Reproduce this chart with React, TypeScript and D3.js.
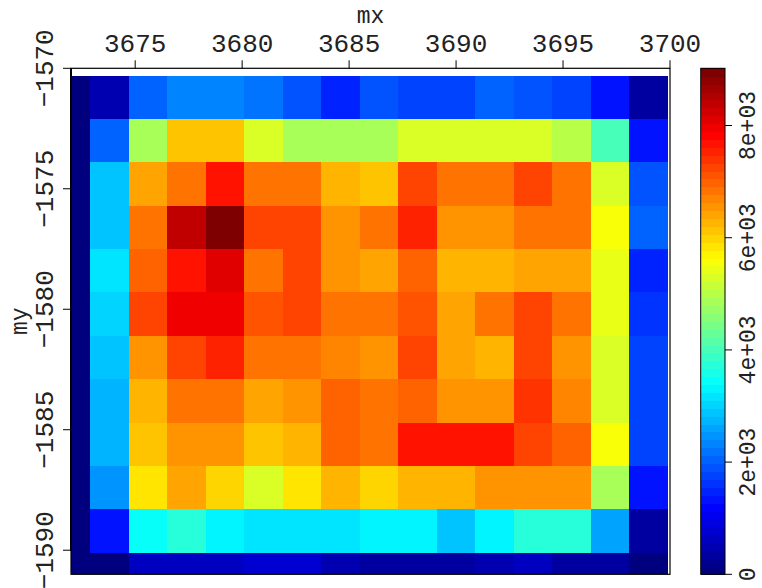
import React from "react";
import * as d3 from "d3";

const xCenters = [3672, 3673.8, 3675.6, 3677.4, 3679.2, 3681, 3682.8, 3684.6, 3686.4, 3688.2, 3690, 3691.8, 3693.6, 3695.4, 3697.2, 3699];
const yCenters = [-1571.2, -1573.0, -1574.8, -1576.6, -1578.4, -1580.2, -1582.0, -1583.8, -1585.6, -1587.4, -1589.2, -1591.0];
const cellSize = 1.8;

const row0 = [40, 500, 1975, 2255, 2365, 2190, 1835, 1550, 1835, 1765, 1765, 1975, 1835, 1695, 1270, 285];
const row1 = [30, 2030, 4800, 6200, 6200, 5290, 4800, 4800, 4800, 5290, 5250, 5290, 5290, 4935, 3950, 1270];
const row2 = [30, 2820, 6405, 6900, 7745, 6830, 6900, 6330, 6200, 7250, 6765, 6765, 7250, 6830, 5250, 1905];
const row3 = [30, 2895, 6900, 8450, 9020, 7325, 7325, 6620, 6830, 7540, 6620, 6620, 6900, 6830, 5500, 1975];
const row4 = [30, 3110, 6970, 7745, 8170, 6765, 7190, 6550, 6405, 7045, 6265, 6265, 6475, 6405, 5430, 1550];
const row5 = [30, 3040, 7190, 8025, 7893, 7115, 7250, 6765, 6765, 7115, 6475, 6765, 7190, 6765, 5430, 1625];
const row6 = [30, 2820, 6550, 7190, 7470, 6900, 6900, 6690, 6620, 7190, 6475, 6330, 7190, 6550, 5290, 1695];
const row7 = [30, 2750, 6265, 6830, 6830, 6475, 6550, 6970, 6765, 6970, 6620, 6620, 7400, 6690, 5290, 1695];
const row8 = [30, 2750, 6125, 6620, 6620, 6125, 6330, 7045, 6900, 7675, 7675, 7675, 7325, 7045, 5500, 1695];
const row9 = [30, 2470, 5840, 6475, 6055, 5290, 5840, 6330, 6055, 6265, 6265, 6550, 6550, 6550, 4800, 1270];
const row10 = [20, 1340, 3383, 3805, 3320, 3110, 3175, 3110, 3320, 3250, 2900, 3250, 3805, 3665, 2545, 285];
const row11 = [0, 120, 570, 570, 640, 710, 710, 430, 360, 360, 285, 430, 640, 360, 285, 60];
const zRows = [row0, row1, row2, row3, row4, row5, row6, row7, row8, row9, row10, row11];

const xTicks = [3675, 3680, 3685, 3690, 3695, 3700];
const yTicks = [-1570, -1575, -1580, -1585, -1590];
const cbTicks = [0, 2000, 4000, 6000, 8000];
const cbLabels = ["0", "2e+03", "4e+03", "6e+03", "8e+03"];

const W = 762, H = 588;
const P = { left: 71, right: 670, top: 68.3, bottom: 574.3 };
const CB = { left: 700.7, right: 725, top: 68.3, bottom: 574.3 };
const FONT = "'Liberation Mono', monospace";
const NLEVEL = 64;
const TXT = "#222";

export default function App() {
  const x = d3.scaleLinear().domain([3672, 3700]).range([P.left, P.right]);
  const y = d3.scaleLinear().domain([-1591, -1570]).range([P.bottom, P.top]);
  const all = zRows.flat();
  const zmin = d3.min(all) as number;
  const zmax = d3.max(all) as number;
  const jet = d3
    .scaleLinear<string>()
    .domain([0, 0.125, 0.375, 0.625, 0.875, 1])
    .range(["#00007F", "#0000FF", "#00FFFF", "#FFFF00", "#FF0000", "#7F0000"])
    .interpolate(d3.interpolateRgb);
  const palette = d3.range(NLEVEL).map((i) => jet(i / (NLEVEL - 1)));
  const colorOf = (v: number) => {
    let idx = Math.floor(((v - zmin) / (zmax - zmin)) * NLEVEL);
    if (idx >= NLEVEL) idx = NLEVEL - 1;
    if (idx < 0) idx = 0;
    return palette[idx];
  };
  const cb = d3.scaleLinear().domain([zmin, zmax]).range([CB.bottom, CB.top]);
  const binEdges = d3.range(NLEVEL + 1).map((i) => zmin + ((zmax - zmin) * i) / NLEVEL);

  const cells: React.ReactNode[] = [];
  zRows.forEach((row, ri) => {
    row.forEach((v, ci) => {
      const x0 = x(xCenters[ci] - cellSize / 2);
      const x1 = x(xCenters[ci] + cellSize / 2);
      const y0 = y(yCenters[ri] + cellSize / 2);
      const y1 = y(yCenters[ri] - cellSize / 2);
      cells.push(
        <rect key={`${ri}-${ci}`} x={x0} y={y0} width={x1 - x0 + 0.4} height={y1 - y0 + 0.4} fill={colorOf(v)} shapeRendering="crispEdges" />
      );
    });
  });

  return (
    <svg width={W} height={H} style={{ position: "fixed", left: 0, top: 0, background: "#fff" }} fontFamily={FONT}>
      <defs>
        <clipPath id="plotclip">
          <rect x={P.left} y={P.top} width={P.right - P.left} height={P.bottom - P.top} />
        </clipPath>
      </defs>
      <rect x={0} y={0} width={W} height={H} fill="#fff" />
      <g clipPath="url(#plotclip)">{cells}</g>
      <rect x={P.left} y={P.top} width={P.right - P.left} height={P.bottom - P.top} fill="none" stroke="#000" strokeWidth={1.2} />
      <line x1={P.left} x2={P.left} y1={y(-1570)} y2={y(-1590)} stroke="#000" strokeWidth={2} />
      {xTicks.map((t) => (
        <g key={t}>
          <line x1={x(t)} x2={x(t)} y1={P.top} y2={P.top - 8} stroke="#000" strokeWidth={1} />
          <text x={x(t)} y={52} textAnchor="middle" fontSize={26} fill={TXT}>
            {t}
          </text>
        </g>
      ))}
      <text x={(P.left + P.right) / 2} y={23} textAnchor="middle" fontSize={23} fill={TXT}>
        mx
      </text>
      {yTicks.map((t) => (
        <g key={t}>
          <line x1={P.left} x2={P.left - 8} y1={y(t)} y2={y(t)} stroke="#000" strokeWidth={1} />
          <text transform={`translate(53,${y(t)}) rotate(-90)`} textAnchor="middle" fontSize={26} fill={TXT}>
            {"\u2212" + Math.abs(t)}
          </text>
        </g>
      ))}
      <text transform={`translate(27,${(P.top + P.bottom) / 2}) rotate(-90)`} textAnchor="middle" fontSize={23} fill={TXT}>
        my
      </text>
      {palette.map((c, i) => (
        <rect key={i} x={CB.left} width={CB.right - CB.left} y={cb(binEdges[i + 1])} height={cb(binEdges[i]) - cb(binEdges[i + 1]) + 0.5} fill={c} shapeRendering="crispEdges" />
      ))}
      <rect x={CB.left} y={CB.top} width={CB.right - CB.left} height={CB.bottom - CB.top} fill="none" stroke="#000" strokeWidth={1} />
      {cbTicks.map((t, i) => (
        <g key={t}>
          <line x1={CB.right} x2={CB.right + 7} y1={cb(t)} y2={cb(t)} stroke="#000" strokeWidth={1} />
          <text transform={`translate(755,${cb(t)}) rotate(-90)`} textAnchor="middle" fontSize={23} fill={TXT}>
            {cbLabels[i]}
          </text>
        </g>
      ))}
    </svg>
  );
}
